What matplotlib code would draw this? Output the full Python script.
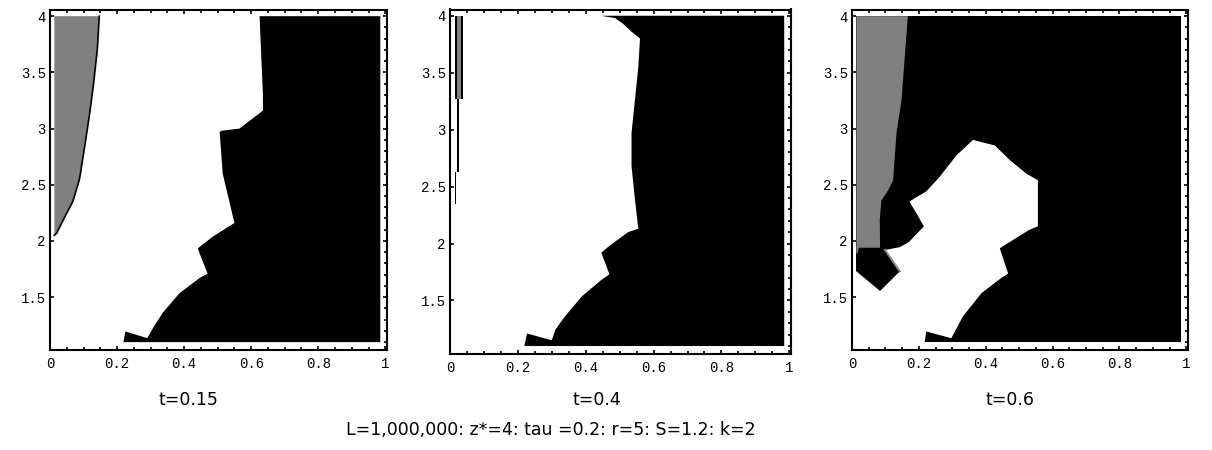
import numpy as np
import matplotlib
matplotlib.use("Agg")
import matplotlib.pyplot as plt
from matplotlib.ticker import MultipleLocator, FixedLocator

# --- data: region boundaries (x, y) ---
titles = ["t=0.15", "t=0.4", "t=0.6"]
caption = "L=1,000,000: z*=4: tau =0.2: r=5: S=1.2: k=2"

x_ticks = [0, 0.2, 0.4, 0.6, 0.8, 1]
x_labels = ["0", "0.2", "0.4", "0.6", "0.8", "1"]
y_ticks = [1.5, 2, 2.5, 3, 3.5, 4]
y_labels = ["1.5", "2", "2.5", "3", "3.5", "4"]

# plotted rectangle of the data
data_x = [0.013, 0.985]
data_y = [1.10, 4.0]

# t=0.15
p1_black_x = [0.219, 0.225, 0.29, 0.31, 0.336, 0.386, 0.446, 0.47, 0.446, 0.441, 0.486, 0.55,
              0.515, 0.506, 0.51, 0.565, 0.635, 0.635, 0.625, 0.985, 0.985]
p1_black_y = [1.10, 1.195, 1.135, 1.24, 1.36, 1.535, 1.67, 1.71, 1.89, 1.935, 2.04, 2.16,
              2.60, 2.97, 2.98, 3.0, 3.16, 3.30, 4.0, 4.0, 1.10]
p1_gray_x = [0.013, 0.147, 0.141, 0.130, 0.119, 0.104, 0.088, 0.068, 0.045, 0.020, 0.013]
p1_gray_y = [4.0, 4.0, 3.70, 3.40, 3.15, 2.85, 2.55, 2.35, 2.22, 2.07, 2.05]

# t=0.4
p2_black_x = [0.219, 0.227, 0.30, 0.31, 0.336, 0.39, 0.446, 0.47, 0.446, 0.47, 0.525, 0.555,
              0.545, 0.535, 0.535, 0.545, 0.555, 0.56, 0.535, 0.51, 0.486, 0.444, 0.985, 0.985]
p2_black_y = [1.10, 1.21, 1.15, 1.24, 1.35, 1.54, 1.68, 1.73, 1.92, 1.98, 2.10, 2.13,
              2.39, 2.68, 2.97, 3.26, 3.55, 3.80, 3.86, 3.93, 3.98, 4.0, 4.0, 1.10]
# thin strips near x=0: x0, x1, y0, y1, shade
p2_strip_x0 = [0.015, 0.022, 0.020, 0.014]
p2_strip_x1 = [0.037, 0.032, 0.027, 0.018]
p2_strip_y0 = [3.27, 3.27, 2.63, 2.35]
p2_strip_y1 = [4.0, 4.0, 3.27, 2.63]
p2_strip_c = ["black", "0.5", "black", "black"]

# t=0.6
p3_white_x = [0.099, 0.143, 0.170, 0.215, 0.192, 0.172, 0.187, 0.222, 0.262, 0.312, 0.362,
              0.387, 0.427, 0.472, 0.521, 0.556, 0.556, 0.531, 0.482, 0.442, 0.467, 0.446,
              0.387, 0.332, 0.297, 0.222, 0.217, 0.005, 0.005, 0.013, 0.084, 0.143]
p3_white_y = [1.92, 1.945, 1.99, 2.13, 2.25, 2.35, 2.38, 2.44, 2.57, 2.76, 2.90,
              2.88, 2.85, 2.72, 2.60, 2.54, 2.13, 2.10, 2.01, 1.935, 1.71, 1.67,
              1.535, 1.33, 1.135, 1.195, 1.09, 1.09, 1.73, 1.73, 1.555, 1.73]
p3_gray_x = [0.013, 0.167, 0.163, 0.148, 0.133, 0.123, 0.108, 0.088, 0.083, 0.084, 0.02, 0.017, 0.013]
p3_gray_y = [4.0, 4.0, 3.84, 3.25, 2.96, 2.54, 2.45, 2.36, 2.19, 1.94, 1.94, 1.89, 1.89]
p3_edge_x = [0.143, 0.099]
p3_edge_y = [1.73, 1.92]

# --- figure ---
fig = plt.figure(figsize=(12.12, 4.5), dpi=100)
W, H = 1212.0, 450.0
# axes boxes in pixels: left, right, top, bottom
boxes = [(50, 387, 10, 350), (450, 791, 9.5, 354), (852, 1188, 10, 350)]
title_x = [188, 597, 1010]
tick_font = dict(family="Liberation Mono", fontsize=10)

axes = []
for (l, r, t, b) in boxes:
    ax = fig.add_axes([l / W, 1 - b / H, (r - l) / W, (b - t) / H])
    ax.set_xlim(0, 1.005)
    ax.set_ylim(1.03, 4.055)
    for s in ax.spines.values():
        s.set_linewidth(1.5)
    ax.xaxis.set_major_locator(FixedLocator(x_ticks))
    ax.set_xticklabels(x_labels, **tick_font)
    ax.xaxis.set_minor_locator(MultipleLocator(0.05))
    ax.yaxis.set_major_locator(FixedLocator(y_ticks))
    ax.set_yticklabels(y_labels, **tick_font)
    ax.yaxis.set_minor_locator(MultipleLocator(0.1))
    ax.tick_params(which="both", direction="in", top=True, right=True, width=1.2)
    ax.tick_params(which="major", length=3)
    ax.tick_params(which="minor", length=2.5)
    ax.tick_params(axis="x", pad=5)
    ax.tick_params(axis="y", pad=3)
    ax.tick_params(axis="y", which="minor", left=False)
    axes.append(ax)

rect_x = [data_x[0], data_x[1], data_x[1], data_x[0]]
rect_y = [data_y[0], data_y[0], data_y[1], data_y[1]]

# panel 1
ax = axes[0]
ax.fill(rect_x, rect_y, color="white", lw=0)
ax.fill(p1_black_x, p1_black_y, color="black", lw=0)
ax.fill(p1_gray_x, p1_gray_y, color="0.5", lw=0)
ax.plot(p1_gray_x[1:], p1_gray_y[1:], color="black", lw=1.2)

# panel 2
ax = axes[1]
ax.fill(rect_x, rect_y, color="white", lw=0)
ax.fill(p2_black_x, p2_black_y, color="black", lw=0)
for x0, x1, y0, y1, c in zip(p2_strip_x0, p2_strip_x1, p2_strip_y0, p2_strip_y1, p2_strip_c):
    ax.fill([x0, x1, x1, x0], [y0, y0, y1, y1], color=c, lw=0)

# panel 3
ax = axes[2]
ax.fill(rect_x, rect_y, color="black", lw=0)
ax.fill(p3_white_x, p3_white_y, color="white", lw=0)
ax.fill(p3_gray_x, p3_gray_y, color="0.5", lw=0)
ax.plot(p3_edge_x, p3_edge_y, color="0.55", lw=1.5)

for i, t in enumerate(titles):
    fig.text(title_x[i] / W, 1 - 400 / H, t, ha="center", va="center", fontsize=12.5)
fig.text(551 / W, 1 - 430 / H, caption, ha="center", va="center", fontsize=12.5)

fig.savefig("out.png", dpi=100)
